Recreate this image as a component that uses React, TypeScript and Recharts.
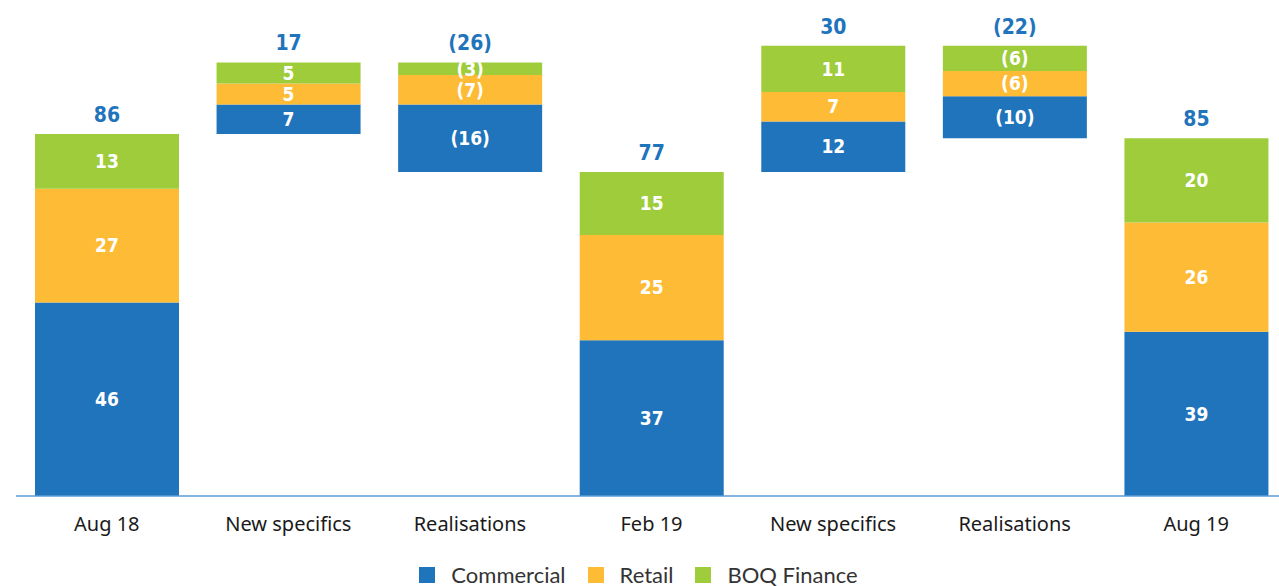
import { BarChart, Bar, XAxis, YAxis, Legend, LabelList } from "recharts";

const categories = ["Aug 18", "New specifics", "Realisations", "Feb 19", "New specifics", "Realisations", "Aug 19"];
const kinds = ["total", "step", "step", "total", "step", "step", "total"];
const commercial = [46, 7, -16, 37, 12, -10, 39];
const retail = [27, 5, -7, 25, 7, -6, 26];
const boqFinance = [13, 5, -3, 15, 11, -6, 20];
const totals = [86, 17, -26, 77, 30, -22, 85];

const BLUE = "#1f74bb";
const ORANGE = "#fdbb36";
const GREEN = "#9ecc3b";

const numFont = "'DejaVu Sans Condensed', 'DejaVu Sans', sans-serif";

// build the waterfall rows: an invisible base plus three stacked segments
let running = 0;
const data = categories.map((name, i) => {
  let base = 0;
  if (kinds[i] === "total") {
    running = totals[i];
  } else {
    base = totals[i] >= 0 ? running : running + totals[i];
    running += totals[i];
  }
  return {
    idx: i,
    name,
    base,
    commercial: Math.abs(commercial[i]),
    retail: Math.abs(retail[i]),
    boq: Math.abs(boqFinance[i]),
    commercialLabel: commercial[i],
    retailLabel: retail[i],
    boqLabel: boqFinance[i],
    totalLabel: totals[i],
  };
});

const fmt = (v: any) => (Number(v) < 0 ? `(${-Number(v)})` : `${v}`);

const legendItems = [
  { label: "Commercial", color: BLUE },
  { label: "Retail", color: ORANGE },
  { label: "BOQ Finance", color: GREEN },
];

const LegendContent = () => (
  <div
    style={{
      display: "flex",
      justifyContent: "center",
      alignItems: "center",
      paddingTop: 12,
      transform: "translateX(-13px)",
      fontFamily: "Lato, sans-serif",
      fontSize: 22,
      color: "#333",
      lineHeight: "22px",
    }}
  >
    {legendItems.map((it) => (
      <div key={it.label} style={{ display: "flex", alignItems: "center", margin: "0 11px" }}>
        <span style={{ width: 16, height: 16, background: it.color, display: "inline-block", marginRight: 16 }} />
        <span>{it.label}</span>
      </div>
    ))}
  </div>
);

const segLabel = { fill: "#fff", fontSize: 19, fontWeight: 700, fontFamily: numFont };

export default function App() {
  return (
    <div style={{ position: "absolute", left: 0, top: 0, background: "#fff" }}>
      <BarChart
        width={1279}
        height={586}
        data={data}
        margin={{ top: 33, right: -8, left: 16, bottom: 0 }}
        barSize={144}
      >
        <XAxis
          dataKey="idx"
          tickFormatter={(i: number) => categories[i]}
          axisLine={{ stroke: "#5b9bd5", strokeWidth: 1.5 }}
          tickLine={false}
          tickSize={0}
          tickMargin={21}
          height={56}
          interval={0}
          tick={{ fill: "#1a1a1a", fontSize: 20, fontFamily: "'Noto Sans', sans-serif" }}
        />
        <YAxis hide domain={[0, 110]} />
        <Legend verticalAlign="bottom" height={34} content={<LegendContent />} />
        <Bar dataKey="base" stackId="a" fill="transparent" isAnimationActive={false} legendType="none" />
        <Bar dataKey="commercial" stackId="a" fill={BLUE} isAnimationActive={false}>
          <LabelList dataKey="commercialLabel" position="center" formatter={fmt} style={segLabel} />
        </Bar>
        <Bar dataKey="retail" stackId="a" fill={ORANGE} isAnimationActive={false}>
          <LabelList dataKey="retailLabel" position="center" formatter={fmt} style={segLabel} />
        </Bar>
        <Bar dataKey="boq" stackId="a" fill={GREEN} isAnimationActive={false}>
          <LabelList dataKey="boqLabel" position="center" formatter={fmt} style={segLabel} />
          <LabelList
            dataKey="totalLabel"
            position="top"
            offset={12}
            formatter={fmt}
            style={{ fill: BLUE, fontSize: 21, fontWeight: 700, fontFamily: numFont }}
          />
        </Bar>
      </BarChart>
    </div>
  );
}
